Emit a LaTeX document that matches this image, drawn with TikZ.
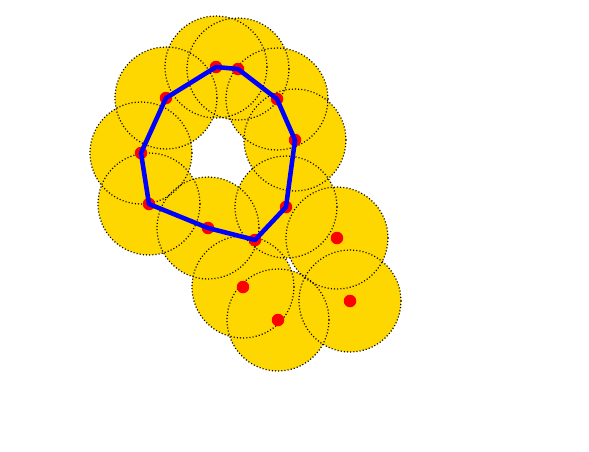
\documentclass[tikz,border=0pt]{standalone}
\usepackage{tikz}
\usetikzlibrary{positioning}
\definecolor{gold}{RGB}{255,215,0}
\tikzset{
  cover/.style={fill=gold},
  rim/.style={draw=black,line width=0.7pt,dash pattern=on 0.6pt off 1.2pt},
  sensor/.style={circle,fill=red,inner sep=0pt,minimum size=0.25cm},
  hull/.style={draw=blue,line width=2.6pt,line join=round},
}
\begin{document}
\begin{tikzpicture}[x=0.02cm,y=-0.02cm]
  \useasboundingbox (0,0) rectangle (589,451);
  % sensor positions
  \coordinate (c1)  at (216,67);
  \coordinate (c2)  at (238,69);
  \coordinate (c3)  at (277,99);
  \coordinate (c4)  at (295,140);
  \coordinate (c5)  at (286,207);
  \coordinate (c6)  at (255,240);
  \coordinate (c7)  at (208,228);
  \coordinate (c8)  at (149,204);
  \coordinate (c9)  at (141,153);
  \coordinate (c10) at (166,98);
  \coordinate (c11) at (337,238);
  \coordinate (c12) at (243,287);
  \coordinate (c13) at (278,320);
  \coordinate (c14) at (350,301);
  % sensing disks (none round c6)
  \foreach \c in {c1,c2,c3,c4,c5,c7,c8,c9,c10,c11,c12,c13,c14}
    \path[cover] (\c) circle[radius=1.02cm];
  \foreach \c in {c1,c2,c3,c4,c5,c7,c8,c9,c10,c11,c12,c13,c14}
    \path[rim] (\c) circle[radius=1.02cm];
  % sensors
  \foreach \c in {c1,c2,c3,c4,c5,c6,c7,c8,c9,c10,c11,c12,c13,c14}
    \node[sensor] (s\c) at (\c) {};
  % boundary cycle
  \draw[hull] (sc1.center) -- (sc2.center) -- (sc3.center) -- (sc4.center)
    -- (sc5.center) -- (sc6.center) -- (sc7.center) -- (sc8.center)
    -- (sc9.center) -- (sc10.center) -- cycle;
\end{tikzpicture}
\end{document}
